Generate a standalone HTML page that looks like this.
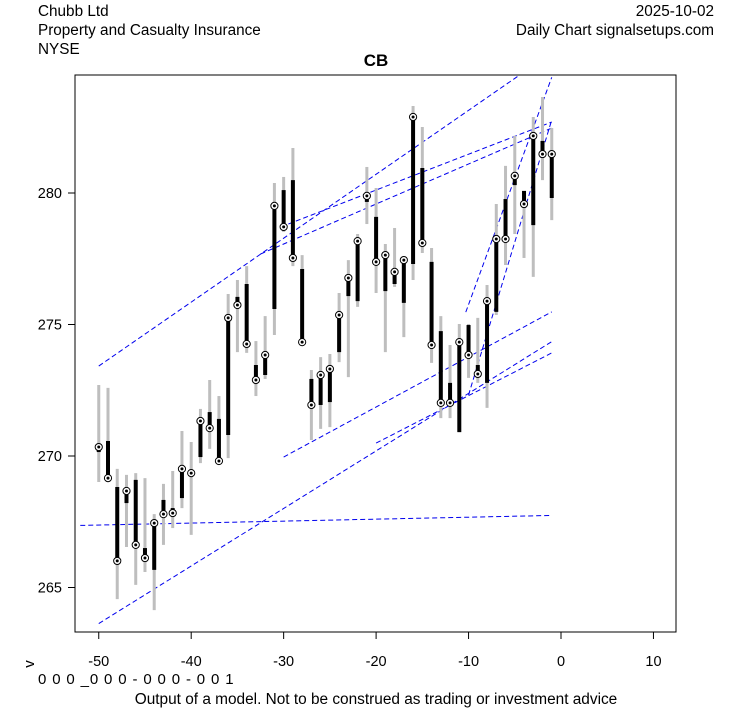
<!DOCTYPE html>
<html><head><meta charset="utf-8"><style>
html,body{margin:0;padding:0;background:#fff;}
svg{display:block;font-family:"Liberation Sans",Arial,sans-serif;}
</style></head><body>
<svg id="chart" width="753" height="708" viewBox="0 0 753 708" xmlns="http://www.w3.org/2000/svg">
<rect width="753" height="708" fill="#fff"/>
<text x="38" y="16" font-size="15.3">Chubb Ltd</text>
<text x="38" y="35" font-size="15.3">Property and Casualty Insurance</text>
<text x="38" y="54" font-size="15.3">NYSE</text>
<text x="714" y="16" font-size="15.3" text-anchor="end">2025-10-02</text>
<text x="714" y="35" font-size="15.3" text-anchor="end">Daily Chart signalsetups.com</text>
<text x="376" y="66" font-size="17" font-weight="bold" text-anchor="middle">CB</text>
<defs><clipPath id="clip"><rect x="75" y="75" width="601" height="557"/></clipPath></defs>
<g id="lines" clip-path="url(#clip)"></g>
<g id="bars"></g>
<rect x="75" y="75" width="601" height="557" fill="none" stroke="#000" stroke-width="1"/>
<g id="axes"></g>
<text transform="translate(34,664) rotate(-90)" font-size="15" text-anchor="middle">v</text>
<text x="38" y="684" font-size="15" letter-spacing="0.85">0 0 0 _0 0 0 - 0 0 0 - 0 0 1</text>
<text x="376" y="704" font-size="15.4" text-anchor="middle">Output of a model. Not to be construed as trading or investment advice</text>
</svg>
<script>
const xs = [-50,-49,-48,-47,-46,-45,-44,-43,-42,-41,-40,-39,-38,-37,-36,-35,-34,-33,-32,-31,-30,-29,-28,-27,-26,-25,-24,-23,-22,-21,-20,-19,-18,-17,-16,-15,-14,-13,-12,-11,-10,-9,-8,-7,-6,-5,-4,-3,-2,-1];
const highs = [272.70,272.59,269.51,269.28,269.35,269.16,267.79,268.94,269.43,270.95,270.53,271.79,272.89,272.28,276.16,276.69,277.22,274.37,275.32,280.38,280.61,281.71,277.64,273.27,273.76,273.88,276.20,277.45,278.44,280.99,280.19,278.06,278.67,277.45,283.31,282.51,277.91,275.32,274.22,275.02,275.02,275.25,276.50,279.58,281.03,282.17,279.85,282.89,283.65,282.47];
const lows = [269.01,269.01,264.56,266.54,265.10,265.59,264.14,266.62,267.26,268.02,267.00,269.73,270.27,269.96,269.92,273.95,273.92,272.28,272.93,274.60,278.52,277.22,274.30,270.61,271.03,271.10,273.57,273.00,275.67,278.82,276.20,273.95,276.43,274.52,276.69,277.72,273.54,271.44,271.44,270.91,272.97,272.78,271.83,275.36,277.26,278.44,277.53,276.81,280.49,278.97];
const opens = [270.15,270.57,268.82,268.21,269.09,266.50,265.67,268.33,268.02,268.40,269.47,269.96,271.67,271.41,270.80,276.05,276.54,273.46,273.08,275.59,280.11,280.49,277.11,272.93,271.94,272.05,273.95,276.08,275.89,279.66,279.09,276.27,276.54,275.82,277.30,280.95,277.38,274.75,272.78,270.91,274.98,273.46,272.78,275.48,279.77,280.30,280.08,278.78,281.98,279.81];
const closes = [270.34,269.16,266.01,268.67,266.62,266.12,267.45,267.79,267.83,269.51,269.35,271.33,271.06,269.81,275.25,275.74,274.26,272.89,273.84,279.51,278.71,277.53,274.33,271.94,273.08,273.31,275.36,276.77,278.17,279.89,277.38,277.64,277.00,277.45,282.89,278.10,274.22,272.02,272.02,274.33,273.84,273.12,275.89,278.25,278.25,280.65,279.58,282.17,281.48,281.48];
const lineStartX = [-50,-30.3,-32.5,-30,-50,-20,-52,-10,-10.3];
const lineStartY = [273.42,278.71,277.68,269.96,263.63,270.49,267.36,272.32,275.47];
const lineEndX = [-1,-1,-1,-1,-1,-1,-1,-1,-1];
const lineEndY = [285.33,282.70,282.47,275.48,274.35,273.92,267.74,282.78,284.40];
const xTicks = [-50,-40,-30,-20,-10,0,10];
const yTicks = [265,270,275,280];

const NS = "http://www.w3.org/2000/svg";
function X(v){ return 561 + v*9.245; }
function Y(v){ return 193 - (v-280)*26.3; }
function mk(tag, attrs, parent){ const e=document.createElementNS(NS,tag); for(const k in attrs) e.setAttribute(k,attrs[k]); parent.appendChild(e); return e; }

const gl = document.getElementById('lines');
for(let i=0;i<lineStartX.length;i++){
  const l = mk('line',{x1:X(lineStartX[i]),y1:Y(lineStartY[i]),x2:X(lineEndX[i]),y2:Y(lineEndY[i]),stroke:'#0000ee','stroke-width':1,'stroke-dasharray':'5,3'},gl);
  
  
}
const gb = document.getElementById('bars');
for(let i=0;i<xs.length;i++){
  const g = mk('g',{},gb);
  
  
  const x = X(xs[i]);
  mk('line',{x1:x,y1:Y(highs[i]),x2:x,y2:Y(lows[i]),stroke:'#bebebe','stroke-width':3},g);
  mk('line',{x1:x,y1:Y(opens[i]),x2:x,y2:Y(closes[i]),stroke:'#000','stroke-width':4},g);
  mk('circle',{cx:x,cy:Y(closes[i]),r:3.6,fill:'#fff',stroke:'#000','stroke-width':1},g);
  mk('circle',{cx:x,cy:Y(closes[i]),r:1.5,fill:'#000'},g);
}
const ga = document.getElementById('axes');
for(const t of xTicks){
  const l = mk('line',{x1:X(t),y1:632,x2:X(t),y2:639,stroke:'#000'},ga);
  
  
  const tx = mk('text',{x:X(t),y:666,'font-size':14.5,'text-anchor':'middle'},ga);
  tx.textContent = t;
  
  
}
for(const t of yTicks){
  const l = mk('line',{x1:68,y1:Y(t),x2:75,y2:Y(t),stroke:'#000'},ga);
  
  
  const tx = mk('text',{x:62,y:Y(t)+5,'font-size':14.5,'text-anchor':'end'},ga);
  tx.textContent = t;
  
  
}
</script>
</body></html>
